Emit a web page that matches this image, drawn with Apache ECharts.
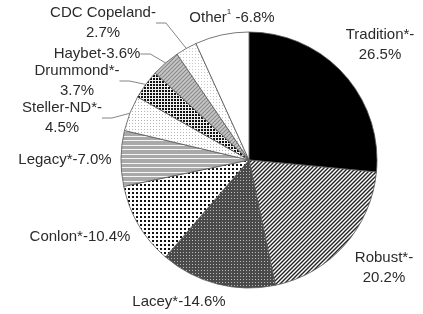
<!DOCTYPE html>
<html>
<head>
<meta charset="utf-8">
<script src="https://cdn.jsdelivr.net/npm/echarts@6/dist/echarts.min.js"></script>
<style>
	html, body { margin: 0; padding: 0; background: #fff; }
	#chart { width: 423px; height: 314px; }
</style>
</head>
<body>
<div id="chart"></div>
<script>
// 品种面积占比数据
var varieties = ['Tradition*', 'Robust*', 'Lacey*', 'Conlon*', 'Legacy*', 'Steller-ND*', 'Drummond*', 'Haybet', 'CDC Copeland', 'Other'];
var shares = [26.5, 20.2, 14.6, 10.4, 7.0, 4.5, 3.7, 3.6, 2.7, 6.8];
// 标签是否换行 / 是否有引线
var wrapLabel = [true, true, false, false, false, true, true, false, true, false];
var withLine = [false, false, false, false, false, true, true, true, true, false];
// 标签中心位置（像素）
var labelAt = [[380, 45], [384, 268], [179, 302], [80, 237], [65, 160], [62, 118], [77, 81], [97, 54], [103, 23], [232, 18]];

// 生成填充图案
function pattern(w, h, draw) {
	var c = document.createElement('canvas');
	c.width = w;
	c.height = h;
	var ctx = c.getContext('2d');
	draw(ctx);
	return { image: c, repeat: 'repeat' };
}
function diag(bg, fg, size, lw) {
	return pattern(size, size, function (ctx) {
		ctx.fillStyle = bg;
		ctx.fillRect(0, 0, size, size);
		ctx.strokeStyle = fg;
		ctx.lineWidth = lw;
		ctx.beginPath();
		ctx.moveTo(-1, size + 1); ctx.lineTo(size + 1, -1);
		ctx.moveTo(-1, 1); ctx.lineTo(1, -1);
		ctx.moveTo(size - 1, size + 1); ctx.lineTo(size + 1, size - 1);
		ctx.stroke();
	});
}
function dots(bg, fg, size, d) {
	return pattern(size, size, function (ctx) {
		ctx.fillStyle = bg;
		ctx.fillRect(0, 0, size, size);
		ctx.fillStyle = fg;
		ctx.fillRect(0, 0, d, d);
	});
}
function hlines() {
	return pattern(8, 9, function (ctx) {
		ctx.fillStyle = '#a9a9a9';
		ctx.fillRect(0, 0, 8, 9);
		ctx.fillStyle = '#f4f4f4';
		ctx.fillRect(0, 1, 8, 1);
		ctx.fillRect(0, 5, 8, 1);
	});
}

var fills = [
	'#000',
	diag('#fff', '#222', 4, 1.4),
	dots('#4a4a4a', '#bdbdbd', 3, 1),
	dots('#fff', '#111', 4, 2),
	hlines(),
	dots('#fff', '#b5b5b5', 3, 1),
	dots('#f0f0f0', '#111', 3, 2),
	diag('#c8c8c8', '#8a8a8a', 4, 1.2),
	dots('#fff', '#c8c8c8', 3, 1),
	'#fff'
];

function showPie() {
	var myChart = echarts.init(document.getElementById('chart'));
	var data = varieties.map(function (name, i) {
		return {
			value: shares[i],
			name: name,
			itemStyle: { color: fills[i] },
			labelLine: { show: withLine[i] }
		};
	});
	var option = {
		animation: false,
		series: [{
			type: 'pie',
			center: [249, 160],
			radius: 128,
			startAngle: 90,
			clockwise: true,
			data: data,
			itemStyle: {
				borderColor: '#555',
				borderWidth: 0.8
			},
			label: {
				position: 'outside',
				overflow: 'none',
				fontFamily: 'Liberation Sans',
				fontSize: 15,
				color: '#2b2b2b',
				lineHeight: 20,
				align: 'center',
				formatter: function (p) {
					var name = p.name === 'Other' ? 'Other{sup|1} ' : p.name;
					var v = p.value.toFixed(1) + '%';
					return name + '-' + (wrapLabel[p.dataIndex] ? '\n' : '') + v;
				},
				rich: {
					sup: { fontSize: 8, verticalAlign: 'top', lineHeight: 10, color: '#2b2b2b' }
				}
			},
			labelLine: {
				length: 8,
				length2: 10,
				lineStyle: { color: '#666', width: 0.8 }
			},
			labelLayout: function (p) {
				var pos = labelAt[p.dataIndex];
				return { x: pos[0], y: pos[1], align: 'center', verticalAlign: 'middle' };
			}
		}]
	};
	myChart.setOption(option);
}
showPie();
</script>
</body>
</html>
